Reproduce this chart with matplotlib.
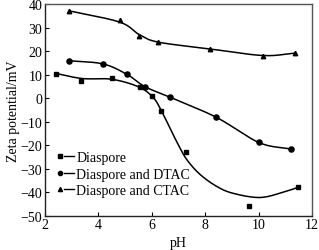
import numpy as np
import matplotlib
matplotlib.use("Agg")
import matplotlib.pyplot as plt
from matplotlib.lines import Line2D
from matplotlib.legend_handler import HandlerTuple

plt.rcParams['font.family'] = ['Liberation Serif', 'DejaVu Serif']
plt.rcParams['mathtext.fontset'] = 'stix'

# measured points
dia_x = [2.4, 3.35, 4.5, 5.55, 6.02, 6.35, 7.3, 9.64, 11.47]
dia_y = [10.3, 7.3, 8.7, 4.8, 0.8, -5.5, -23.1, -46.1, -38.0]

dtac_x = [2.9, 4.18, 5.08, 5.75, 6.7, 8.42, 10.01, 11.2]
dtac_y = [15.9, 14.6, 10.1, 4.6, 0.4, -8.2, -18.9, -21.7]

ctac_x = [2.91, 4.8, 5.53, 6.24, 8.17, 10.16, 11.37]
ctac_y = [37.1, 33.2, 26.2, 23.7, 20.9, 18.0, 19.1]

# fitted-curve knots
dia_fit_x = [2.4, 3.4, 4.5, 5.5, 6.05, 6.36, 6.67, 6.98, 7.3, 7.79, 8.42, 9.04, 10.04, 10.91, 11.47]
dia_fit_y = [10.5, 8.3, 8.0, 4.8, 0.3, -5.4, -12.5, -19.6, -26.0, -32.3, -37.5, -40.5, -42.3, -40.1, -38.0]

dtac_fit_x = [2.9, 4.18, 5.08, 5.75, 6.7, 8.42, 10.01, 11.2]
dtac_fit_y = [15.9, 14.5, 10.0, 4.8, 0.3, -8.2, -18.9, -21.7]

ctac_fit_x = [2.91, 4.8, 5.53, 6.24, 8.17, 10.16, 11.37]
ctac_fit_y = [37.1, 32.3, 27.0, 23.8, 20.9, 18.1, 19.1]

labels = ['Diaspore', 'Diaspore and DTAC', 'Diaspore and CTAC']
xticks = [2, 4, 6, 8, 10, 12]
yticks = [-50, -40, -30, -20, -10, 0, 10, 20, 30, 40]


def smooth(xs, ys, n=30):
    x = np.asarray(xs, float)
    y = np.asarray(ys, float)
    px = np.concatenate([[2 * x[0] - x[1]], x, [2 * x[-1] - x[-2]]])
    py = np.concatenate([[2 * y[0] - y[1]], y, [2 * y[-1] - y[-2]]])
    ox, oy = [], []
    for i in range(1, len(px) - 2):
        t = np.linspace(0, 1, n, endpoint=False)
        p0, p1, p2, p3 = px[i - 1], px[i], px[i + 1], px[i + 2]
        q0, q1, q2, q3 = py[i - 1], py[i], py[i + 1], py[i + 2]
        def cr(a0, a1, a2, a3):
            return 0.5 * ((2 * a1) + (-a0 + a2) * t + (2 * a0 - 5 * a1 + 4 * a2 - a3) * t ** 2
                          + (-a0 + 3 * a1 - 3 * a2 + a3) * t ** 3)
        ox.append(cr(p0, p1, p2, p3))
        oy.append(cr(q0, q1, q2, q3))
    ox.append([x[-1]])
    oy.append([y[-1]])
    return np.concatenate(ox), np.concatenate(oy)


fig = plt.figure(figsize=(3.19, 2.51), dpi=100)
ax = fig.add_axes([0.141, 0.137, 0.837, 0.843])

ms = 3.2
for fx, fy in [(dia_fit_x, dia_fit_y), (dtac_fit_x, dtac_fit_y), (ctac_fit_x, ctac_fit_y)]:
    sx, sy = smooth(fx, fy)
    ax.plot(sx, sy, color='black', lw=1.1)

ax.plot(dia_x, dia_y, 's', color='black', ms=ms, ls='none')
ax.plot(dtac_x, dtac_y, 'o', color='black', ms=ms + 0.5, ls='none')
ax.plot(ctac_x, ctac_y, '^', color='black', ms=ms, ls='none')

ax.set_xlim(2, 12)
ax.set_ylim(-50, 40)
ax.set_xticks(xticks)
ax.set_yticks(yticks)
ax.tick_params(direction='in', length=3, width=0.8, labelsize=10, pad=2, colors='black')
for s in ax.spines.values():
    s.set_color('#555555')
    s.set_linewidth(1.0)
ax.spines['left'].set_color('#222222')
ax.spines['bottom'].set_color('#222222')

ax.set_xlabel('pH', fontsize=10, labelpad=3)
ax.set_ylabel('Zeta potential/mV', fontsize=10, labelpad=0)

handles = []
for m in ['s', 'o', '^']:
    mk = Line2D([], [], marker=m, color='black', ls='none', ms=3)
    ln = Line2D([], [], color='black', lw=1.0)
    handles.append((mk, ln))
ax.legend(handles, labels, handler_map={tuple: HandlerTuple(ndivide=2, pad=0.0)},
          loc='lower left', bbox_to_anchor=(0.031, 0.081), frameon=False, fontsize=10,
          handlelength=1.4, handletextpad=0.15, labelspacing=0.25, borderpad=0.1,
          borderaxespad=0.0)

fig.savefig('out.png', dpi=100)
